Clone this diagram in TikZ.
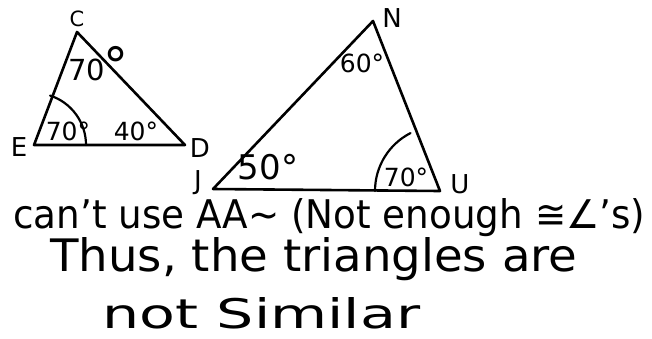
\documentclass[tikz,border=0pt]{standalone}
\usepackage{fontspec}
\setmainfont{DejaVu Sans}
\begin{document}
\begin{tikzpicture}[x=1pt,y=-1pt,
  tri/.style={line width=2.6pt, line join=round, line cap=round},
  marc/.style={line width=2.2pt, line cap=round},
  vlab/.style={font=\fontsize{26}{26}\selectfont, inner sep=0pt},
  ang/.style={font=\fontsize{25}{25}\selectfont, inner sep=0pt},
  txt/.style={anchor=base west, inner sep=0pt}]
\useasboundingbox[fill=white] (0,0) rectangle (652,338);
% triangle CED
\coordinate (C) at (77,32);
\coordinate (E) at (34,145);
\coordinate (D) at (185,145);
\draw[tri] (C) -- (D) -- (E) -- cycle;
\draw[marc] (E) ++(-72:52) arc[start angle=-72, end angle=0, radius=52];
\node[vlab, font=\fontsize{21}{21}\selectfont] (lC) at (77,19) {C};
\node[vlab] (lE) at (19,147) {E};
\node[vlab] (lD) at (200,148) {D};
\node[ang, font=\fontsize{29}{29}\selectfont] (aC) at (87,70) {70};
\node[ang, font=\fontsize{50}{50}\selectfont, anchor=base] (aCdeg) at (116,83) {°};
\node[ang] (aE) at (68,131) {70°};
\node[ang] (aD) at (136,131) {40°};
% triangle JNU
\coordinate (N) at (373,21);
\coordinate (J) at (213,189);
\coordinate (U) at (440,191);
\draw[tri] (N) -- (U) -- (J) -- cycle;
\draw[marc] (U) ++(-117:65) arc[start angle=-117, end angle=-180, radius=65];
\node[vlab] (lN) at (392,18) {N};
\node[vlab] (lJ) at (198,183) {J};
\node[vlab] (lU) at (460,184) {U};
\node[ang] (aN) at (362,63) {60°};
\node[ang, font=\fontsize{34}{34}\selectfont] (aJ) at (268,167) {50°};
\node[ang] (aU) at (406,177) {70°};
% text
\node[txt] (t1) at (13,228) {\resizebox{632pt}{30pt}{can't use AA∼ (Not enough ≅∠'s)}};
\node[txt] (t2) at (50,271) {\resizebox{527pt}{34pt}{Thus, the triangles are}};
\node[txt] (t3) at (102,328) {\resizebox{318pt}{31pt}{not Similar}};
\end{tikzpicture}
\end{document}
